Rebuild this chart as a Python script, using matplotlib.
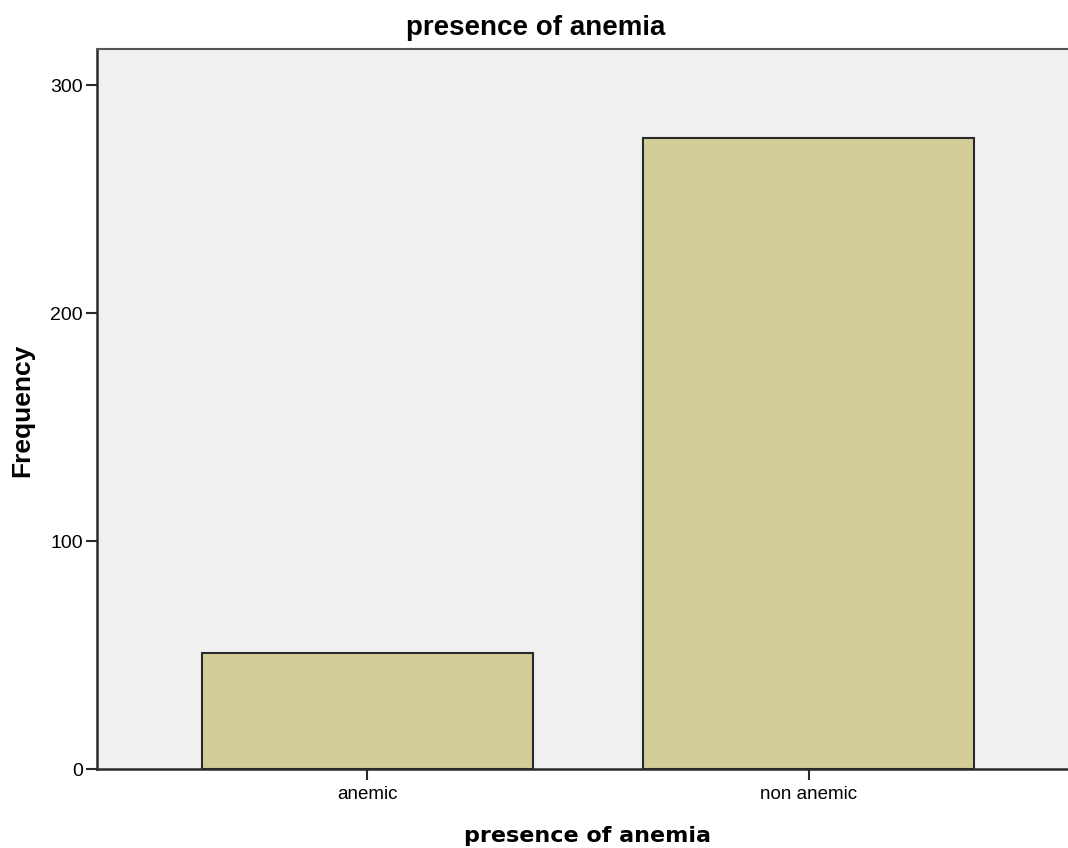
import matplotlib

matplotlib.use("Agg")
import matplotlib.pyplot as plt

categories = ["anemic", "non anemic"]
frequency = [51, 277]
y_ticks = [0, 100, 200, 300]

plt.rcParams["font.family"] = ["Liberation Sans", "DejaVu Sans"]

W, H = 1068, 848
fig = plt.figure(figsize=(W / 100, H / 100), dpi=100)
# axes runs a bit past the right edge, like the cropped original
ax = fig.add_axes([97 / W, 79 / H, 982 / W, 720 / H])
ax.set_facecolor("#f0f0f0")

x = range(len(categories))
ax.bar(x, frequency, width=0.75, color="#d3ce98", edgecolor="#2a2a2a", linewidth=1.5)

ax.set_xlim(-0.613, 1.613)
ax.set_ylim(0, 316)
ax.set_xticks(list(x))
ax.set_xticklabels(categories, fontsize=13.5)
ax.set_yticks(y_ticks)
ax.set_yticklabels([str(v) for v in y_ticks], fontsize=14)
ax.tick_params(axis="both", direction="out", length=8, width=1.5, color="#2a2a2a", pad=2)
ax.tick_params(axis="x", pad=4)

for side in ("left", "bottom"):
    ax.spines[side].set_linewidth(1.8)
    ax.spines[side].set_color("#2a2a2a")
ax.spines["top"].set_linewidth(1.5)
ax.spines["top"].set_color("#555555")
ax.spines["right"].set_visible(False)

fig.text(536 / W, 1 - 35 / H, "presence of anemia", ha="center", va="baseline",
         fontsize=20, fontweight="bold")
fig.text(588 / W, 1 - 842 / H, "presence of anemia", ha="center", va="baseline",
         fontsize=16, fontweight="bold", family="DejaVu Sans")
fig.text(22 / W, 1 - 410 / H, "Frequency", ha="center", va="center", rotation=90,
         fontsize=19, fontweight="bold")

fig.savefig("out.png", dpi=100)
